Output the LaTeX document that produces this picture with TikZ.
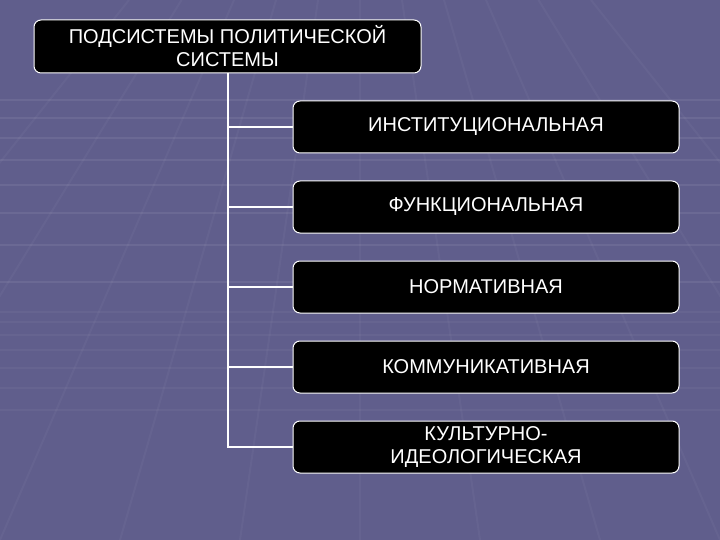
\documentclass[tikz,border=0pt]{standalone}
\usepackage{fontspec}
\setmainfont{Liberation Sans}
\begin{document}
\begin{tikzpicture}[x=1pt,y=-1pt,
  box/.style={draw=white, line width=1pt, fill=black, rounded corners=7pt,
    text=white, align=center, font=\fontsize{20}{23}\selectfont, inner sep=0pt},
  conn/.style={draw=white, line width=1.4pt},
  grid/.style={draw=white, opacity=0.07, line width=2pt}]
\fill[fill={rgb,255:red,96;green,94;blue,140}] (0,0) rectangle (720,540);
\useasboundingbox (0,0) rectangle (720,540);
% faint perspective grid
\foreach \y in {100,118,138,160,185,213,245,282} {\draw[grid] (0,\y) -- (720,\y);}
\foreach \y in {410,388,368,350,335,322,312} {\draw[grid,opacity=0.04] (0,\y) -- (720,\y);}
\foreach \x in {-300,-150,0,120,240,360,480,600,720,870,1020} {\draw[grid,opacity=0.035] (360+0.35*\x-126,0) -- (\x,540);}
% nodes
\node[box, minimum width=387pt, minimum height=53pt] (top) at (227.5,46.5) {ПОДСИСТЕМЫ ПОЛИТИЧЕСКОЙ\\СИСТЕМЫ};
\node[box, minimum width=386pt, minimum height=52pt] (a) at (486,127) {ИНСТИТУЦИОНАЛЬНАЯ};
\node[box, minimum width=386pt, minimum height=52pt] (b) at (486,207) {ФУНКЦИОНАЛЬНАЯ};
\node[box, minimum width=386pt, minimum height=52pt] (c) at (486,287) {НОРМАТИВНАЯ};
\node[box, minimum width=386pt, minimum height=52pt] (d) at (486,367) {КОММУНИКАТИВНАЯ};
\node[box, minimum width=386pt, minimum height=52pt] (e) at (486,447) {КУЛЬТУРНО-\\ИДЕОЛОГИЧЕСКАЯ};
\coordinate (trunk) at (228,0);
\draw[conn] (top.south -| trunk) |- (e.west);
\foreach \n in {a,b,c,d} {\draw[conn] (\n.west -| trunk) -- (\n.west);}
\end{tikzpicture}
\end{document}
